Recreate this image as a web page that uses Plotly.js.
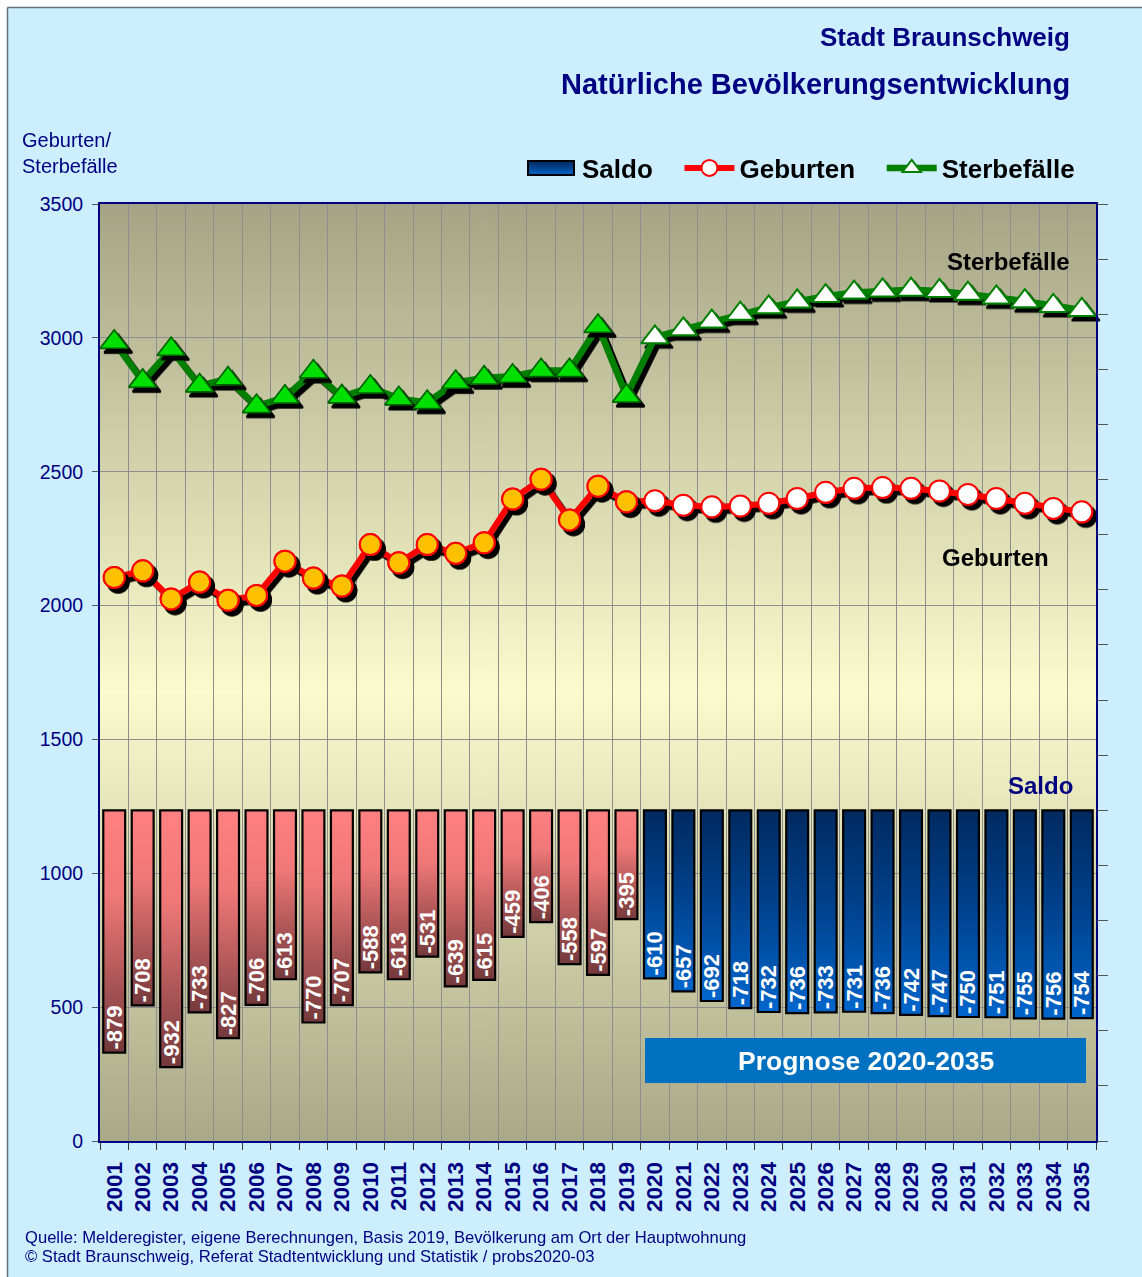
<!DOCTYPE html>
<html>
<head>
<meta charset="utf-8">
<script src="https://cdn.plot.ly/plotly-3.0.1.min.js"></script>
<style>
  html, body { margin: 0; padding: 0; background: #ffffff; }
  #chart { width: 1142px; height: 1277px; }
</style>
</head>
<body>
<div id="chart"></div>
<script>
// ---------------- DATA ----------------
const years = ['2001','2002','2003','2004','2005','2006','2007','2008','2009','2010',
               '2011','2012','2013','2014','2015','2016','2017','2018','2019','2020',
               '2021','2022','2023','2024','2025','2026','2027','2028','2029','2030',
               '2031','2032','2033','2034','2035'];
const geburten = [2105, 2130, 2025, 2088, 2020, 2038, 2166, 2103, 2073, 2228,
                  2160, 2228, 2195, 2235, 2398, 2472, 2320, 2446, 2388, 2392,
                  2375, 2369, 2372, 2382, 2400, 2423, 2438, 2441, 2438, 2428,
                  2415, 2400, 2382, 2363, 2350];
const sterbefaelle = [2984, 2838, 2957, 2821, 2847, 2744, 2779, 2873, 2780, 2816,
                      2773, 2759, 2834, 2850, 2857, 2878, 2878, 3043, 2783, 3002,
                      3032, 3061, 3090, 3114, 3136, 3156, 3169, 3177, 3180, 3175,
                      3165, 3151, 3137, 3119, 3104];
const saldo = [-879, -708, -932, -733, -827, -706, -613, -770, -707, -588,
               -613, -531, -639, -615, -459, -406, -558, -597, -395, -610,
               -657, -692, -718, -732, -736, -733, -731, -736, -742, -747,
               -750, -751, -755, -756, -754];
const lastObservedYear = '2019';

// split observed / forecast
const nObs = years.indexOf(lastObservedYear) + 1;
const yearsObs = years.slice(0, nObs), yearsProg = years.slice(nObs);
const saldoObs = saldo.slice(0, nObs), saldoProg = saldo.slice(nObs);

// ---------------- STYLE ----------------
const NAVY = '#000080';
const FONT = 'Liberation Sans, Arial, sans-serif';
const GAP = '\u00a0\u00a0\u00a0';

const barText = {family: FONT, size: 22, weight: 'bold', color: '#ffffff'};

const data = [
  {
    type: 'bar', x: yearsObs, y: saldoObs, yaxis: 'y2', name: 'Saldo', showlegend: false,
    width: 0.77, base: 0,
    marker: {color: '#d06868', line: {color: '#000000', width: 2.2}},
    text: saldoObs.map(String), textposition: 'inside', insidetextanchor: 'end',
    textangle: -90, constraintext: 'none', textfont: barText, cliponaxis: false
  },
  {
    type: 'bar', x: yearsProg, y: saldoProg, yaxis: 'y2', name: 'Saldo' + GAP, showlegend: true,
    width: 0.77, base: 0,
    marker: {color: '#0050a8', line: {color: '#000000', width: 2.2}},
    text: saldoProg.map(String), textposition: 'inside', insidetextanchor: 'end',
    textangle: -90, constraintext: 'none', textfont: barText, cliponaxis: false
  },
  {
    type: 'scatter', mode: 'lines+markers', x: years, y: geburten, name: 'Geburten' + GAP,
    line: {color: '#ff0000', width: 6},
    marker: {symbol: 'circle', size: 21, color: '#ffffff', line: {color: '#ff0000', width: 2}},
    cliponaxis: false
  },
  {
    type: 'scatter', mode: 'markers', x: yearsObs, y: geburten.slice(0, nObs), name: 'Geburten',
    showlegend: false,
    marker: {symbol: 'circle', size: 21, color: '#ffc000', line: {color: '#ff0000', width: 2}},
    cliponaxis: false
  },
  {
    type: 'scatter', mode: 'lines+markers', x: years, y: sterbefaelle, name: 'Sterbefälle',
    line: {color: '#008000', width: 6.5},
    marker: {symbol: 'triangle-up', size: 24, color: '#ffffff', line: {color: '#008000', width: 2}},
    cliponaxis: false
  },
  {
    type: 'scatter', mode: 'markers', x: yearsObs, y: sterbefaelle.slice(0, nObs), name: 'Sterbefälle',
    showlegend: false,
    marker: {symbol: 'triangle-up', size: 24, color: '#00e000', line: {color: '#006400', width: 1.5}},
    cliponaxis: false
  }
];

// plot-area gradient background (drawn on a canvas, used as layout image)
function gradientURL() {
  const c = document.createElement('canvas');
  c.width = 4; c.height = 512;
  const ctx = c.getContext('2d');
  const g = ctx.createLinearGradient(0, 0, 0, 512);
  g.addColorStop(0, '#a5a486');
  g.addColorStop(0.52, '#fbfbcd');
  g.addColorStop(1, '#a9a888');
  ctx.fillStyle = g;
  ctx.fillRect(0, 0, 4, 512);
  return c.toDataURL('image/png');
}

// pixel -> paper helpers for decoration placement
const L = 100, R = 1096, T = 204, B = 1141;
const px = v => (v - L) / (R - L);
const py = v => (B - v) / (B - T);

const layout = {
  width: 1142, height: 1277,
  margin: {l: L, r: 1142 - R, t: T, b: 1277 - B, pad: 0},
  paper_bgcolor: '#cceeff',
  plot_bgcolor: 'rgba(0,0,0,0)',
  barmode: 'overlay',
  showlegend: true,
  hovermode: false,
  legend: {
    orientation: 'h', x: px(1080), xanchor: 'right', y: py(168), yanchor: 'middle',
    font: {family: FONT, size: 26, weight: 'bold', color: '#000000'},
    itemwidth: 50, bgcolor: 'rgba(0,0,0,0)', traceorder: 'normal', tracegroupgap: 0
  },
  xaxis: {
    type: 'category', categoryorder: 'array', categoryarray: years,
    range: [-0.5, years.length - 0.5],
    tickson: 'boundaries', ticks: 'outside', ticklen: 7, tickcolor: '#333333', tickwidth: 1,
    tickangle: -90, ticklabelstandoff: 10,
    tickfont: {family: FONT, size: 22.5, weight: 'bold', color: NAVY},
    showgrid: true, gridcolor: '#8e8e8e', gridwidth: 1,
    showline: true, linecolor: NAVY, linewidth: 2, mirror: true,
    zeroline: false, automargin: false
  },
  yaxis: {
    range: [0, 3500], tick0: 0, dtick: 500,
    ticks: 'outside', ticklen: 6, tickcolor: '#555555', ticklabelstandoff: 5,
    tickfont: {family: FONT, size: 19.5, color: NAVY},
    showgrid: true, gridcolor: '#8e8e8e', gridwidth: 1,
    showline: true, linecolor: NAVY, linewidth: 2, mirror: true,
    zeroline: false, automargin: false
  },
  yaxis2: {
    overlaying: 'y', side: 'right', anchor: 'x', range: [-1200, 2200], tick0: 0, dtick: 200,
    ticks: 'outside', ticklen: 11, tickcolor: '#555555', showticklabels: false,
    showgrid: false, zeroline: false, showline: false, automargin: false
  },
  yaxis3: {
    overlaying: 'y', side: 'right', anchor: 'x', range: [-1200, 2200], tick0: 0, dtick: 200,
    ticks: 'inside', ticklen: 11, tickcolor: '#555555', showticklabels: false,
    showgrid: false, zeroline: false, showline: false, automargin: false
  },
  images: [{
    source: gradientURL(), xref: 'paper', yref: 'paper', x: 0, y: 1, sizex: 1, sizey: 1,
    xanchor: 'left', yanchor: 'top', sizing: 'stretch', layer: 'below'
  }],
  shapes: [
    // white outer strips and grey frame of the picture
    {type: 'rect', xref: 'paper', yref: 'paper', x0: px(-2), x1: px(7), y0: py(1280), y1: py(-2),
     fillcolor: '#ffffff', line: {width: 0}, layer: 'below'},
    {type: 'rect', xref: 'paper', yref: 'paper', x0: px(-2), x1: px(1145), y0: py(7), y1: py(-2),
     fillcolor: '#ffffff', line: {width: 0}, layer: 'below'},
    {type: 'line', xref: 'paper', yref: 'paper', x0: px(7.5), x1: px(7.5), y0: py(7.5), y1: py(1280),
     line: {color: '#62727a', width: 1.5}},
    {type: 'line', xref: 'paper', yref: 'paper', x0: px(7.5), x1: px(1145), y0: py(7.5), y1: py(7.5),
     line: {color: '#62727a', width: 1.5}},
    // forecast box
    {type: 'rect', xref: 'paper', yref: 'paper', x0: px(645), x1: px(1086), y0: py(1083), y1: py(1038),
     fillcolor: '#0070c0', line: {width: 0}, layer: 'above'}
  ],
  annotations: [
    {text: 'Stadt Braunschweig', xref: 'paper', yref: 'paper', x: px(1072), y: py(37),
     xanchor: 'right', yanchor: 'middle', showarrow: false,
     font: {family: FONT, size: 26, weight: 'bold', color: NAVY}},
    {text: 'Natürliche Bevölkerungsentwicklung', xref: 'paper', yref: 'paper', x: px(1072), y: py(84),
     xanchor: 'right', yanchor: 'middle', showarrow: false,
     font: {family: FONT, size: 29, weight: 'bold', color: NAVY}},
    {text: 'Geburten/<br>Sterbefälle', xref: 'paper', yref: 'paper', x: px(20), y: py(153),
     xanchor: 'left', yanchor: 'middle', align: 'left', showarrow: false,
     font: {family: FONT, size: 20, color: NAVY}},
    {text: 'Sterbefälle', xref: 'paper', yref: 'paper', x: px(1072), y: py(261),
     xanchor: 'right', yanchor: 'middle', showarrow: false,
     font: {family: FONT, size: 24, weight: 'bold', color: '#000000'}},
    {text: 'Geburten', xref: 'paper', yref: 'paper', x: px(1051), y: py(557),
     xanchor: 'right', yanchor: 'middle', showarrow: false,
     font: {family: FONT, size: 24, weight: 'bold', color: '#000000'}},
    {text: 'Saldo', xref: 'paper', yref: 'paper', x: px(1075), y: py(785),
     xanchor: 'right', yanchor: 'middle', showarrow: false,
     font: {family: FONT, size: 24, weight: 'bold', color: NAVY}},
    {text: 'Prognose 2020-2035', xref: 'paper', yref: 'paper', x: px(866), y: py(1061),
     xanchor: 'center', yanchor: 'middle', showarrow: false,
     font: {family: FONT, size: 26.5, weight: 'bold', color: '#ffffff'}},
    {text: 'Quelle: Melderegister, eigene Berechnungen, Basis 2019, Bevölkerung am Ort der Hauptwohnung',
     xref: 'paper', yref: 'paper', x: px(23), y: py(1237), xanchor: 'left', yanchor: 'middle',
     showarrow: false, font: {family: 'Liberation Sans Narrow, Arial Narrow, sans-serif', size: 16.6, color: NAVY}},
    {text: '© Stadt Braunschweig, Referat Stadtentwicklung und Statistik / probs2020-03',
     xref: 'paper', yref: 'paper', x: px(23), y: py(1256), xanchor: 'left', yanchor: 'middle',
     showarrow: false, font: {family: 'Liberation Sans Narrow, Arial Narrow, sans-serif', size: 16.6, color: NAVY}}
  ]
};

const SVGNS = 'http://www.w3.org/2000/svg';
function addGradient(defs, id, stops) {
  const lg = document.createElementNS(SVGNS, 'linearGradient');
  lg.setAttribute('id', id);
  lg.setAttribute('x1', '0'); lg.setAttribute('y1', '0');
  lg.setAttribute('x2', '0'); lg.setAttribute('y2', '1');
  stops.forEach(([off, col]) => {
    const s = document.createElementNS(SVGNS, 'stop');
    s.setAttribute('offset', off);
    s.setAttribute('stop-color', col);
    lg.appendChild(s);
  });
  defs.appendChild(lg);
}

Plotly.newPlot('chart', data, layout, {staticPlot: true, displayModeBar: false}).then(gd => {
  const svg = gd.querySelector('svg.main-svg');
  let defs = svg.querySelector('defs');
  if (!defs) { defs = document.createElementNS(SVGNS, 'defs'); svg.insertBefore(defs, svg.firstChild); }
  addGradient(defs, 'gradObs', [['0', '#ff8080'], ['0.35', '#f07878'], ['1', '#74393b']]);
  addGradient(defs, 'gradProg', [['0', '#002a60'], ['0.45', '#00408a'], ['1', '#0066cc']]);
  const f = document.createElementNS(SVGNS, 'filter');
  f.setAttribute('id', 'dropShadow');
  f.setAttribute('x', '-20%'); f.setAttribute('y', '-20%');
  f.setAttribute('width', '140%'); f.setAttribute('height', '140%');
  const ds = document.createElementNS(SVGNS, 'feDropShadow');
  ds.setAttribute('dx', '4'); ds.setAttribute('dy', '4.5');
  ds.setAttribute('stdDeviation', '0.6');
  ds.setAttribute('flood-color', '#000000'); ds.setAttribute('flood-opacity', '1');
  f.appendChild(ds);
  defs.appendChild(f);

  const barTraces = gd.querySelectorAll('.barlayer .trace');
  const ids = ['gradObs', 'gradProg'];
  barTraces.forEach((t, i) => {
    t.querySelectorAll('.point path').forEach(p => { p.style.fill = 'url(#' + ids[i] + ')'; });
  });
  gd.querySelectorAll('.scatterlayer .trace').forEach(t => t.setAttribute('filter', 'url(#dropShadow)'));
  // legend symbol for Saldo: wider box with gradient
  gd.querySelectorAll('.legend .traces').forEach(tr => {
    const txt = tr.querySelector('.legendtext');
    if (txt && txt.textContent.indexOf('Saldo') === 0) {
      const p = tr.querySelector('.legendpoints path');
      if (p) {
        p.setAttribute('d', 'M22,7H-24V-7H22Z');
        p.style.fill = 'url(#gradProg)';
        p.style.stroke = '#000000';
        p.style.strokeWidth = '2px';
      }
    }
  });
});
</script>
</body>
</html>
